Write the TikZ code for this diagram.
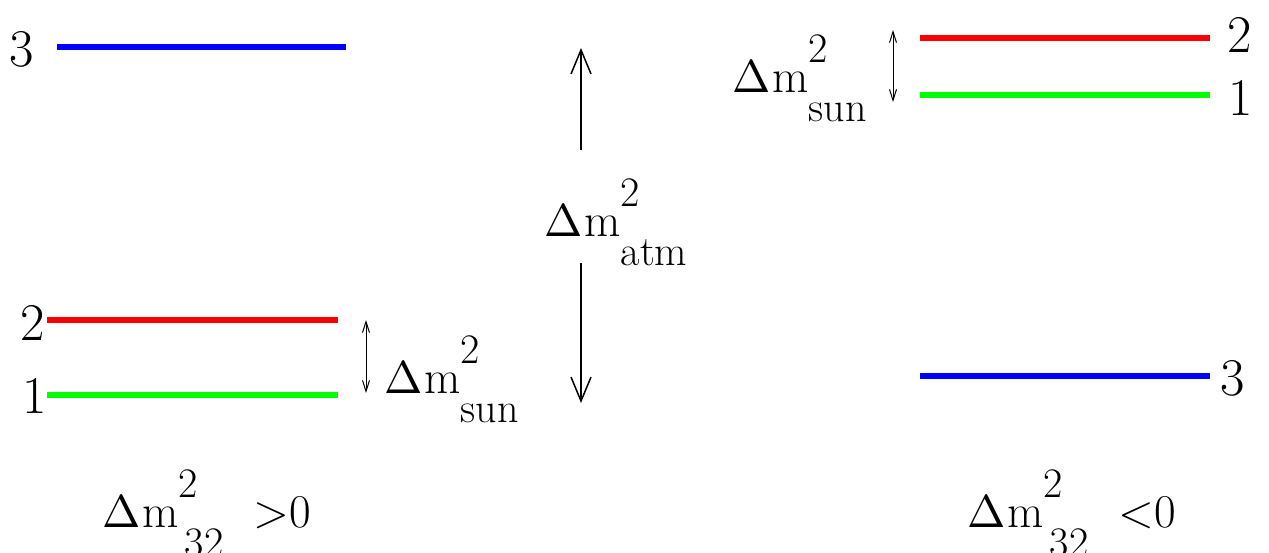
\documentclass[tikz,border=0pt]{standalone}
\usepackage{graphicx}
\usetikzlibrary{arrows.meta}
\definecolor{lvred}{RGB}{255,0,0}
\definecolor{lvgreen}{RGB}{0,255,0}
\definecolor{lvblue}{RGB}{0,0,255}
\newcommand\mainsz{\fontsize{47}{50}\selectfont}
\newcommand\smallsz{\fontsize{42}{46}\selectfont}
\newcommand\lvlsz{\fontsize{53}{56}\selectfont}
\newcommand\bigDelta{\scalebox{4.6}{\fontsize{10}{12}\selectfont$\Delta$}}
\newcommand\dmsq[1]{{\mainsz\bigDelta\kern2pt m}\rlap{\raisebox{30pt}{\smallsz 2}}\raisebox{-29pt}{\smallsz #1}}
\newcommand\dmsqb[1]{{\mainsz\bigDelta\kern2pt m}\rlap{\raisebox{30pt}{\smallsz 2}}\raisebox{-29pt}{\smallsz\hspace{6pt}#1}}
\tikzset{
  level/.style={line width=6pt},
  lvnum/.style={inner sep=0pt, anchor=base, font=\lvlsz},
  dmlabel/.style={inner sep=0pt, anchor=base west},
  bigarrow/.style={line width=1.5pt, -{Straight Barb[length=24pt,width=20pt,line width=1.5pt]}},
  smallarrow/.style={line width=1pt, {Straight Barb[length=11pt,width=7pt]}-{Straight Barb[length=11pt,width=7pt]}}
}
\begin{document}
\begin{tikzpicture}[x=1pt,y=-1pt]
\useasboundingbox (0,0) rectangle (1269,552);
% left (normal) levels
\coordinate (l3a) at (57,47);  \coordinate (l3b) at (346,47);
\coordinate (l2a) at (47,320); \coordinate (l2b) at (338,320);
\coordinate (l1a) at (47,395); \coordinate (l1b) at (338,395);
\draw[level, lvblue] (l3a) -- (l3b);
\draw[level, lvred] (l2a) -- (l2b);
\draw[level, lvgreen] (l1a) -- (l1b);
\node[lvnum] (n3l) at (22,66) {3};
\node[lvnum] (n2l) at (33,340) {2};
\node[lvnum] (n1l) at (35,413) {1};
% left small splitting
\coordinate (sla) at (366,320); \coordinate (slb) at (366,393);
\draw[smallarrow] (sla) -- (slb);
\node[dmlabel] (sunl) at (384,393) {\dmsq{sun}};
% center atm
\coordinate (atop) at (581,48); \coordinate (atopst) at (581,150);
\coordinate (abot) at (581,403); \coordinate (abotst) at (581,263);
\draw[bigarrow] (atopst) -- (atop);
\draw[bigarrow] (abotst) -- (abot);
\node[dmlabel] (atm) at (544,236) {\dmsq{atm}};
% right (inverted) levels
\coordinate (r2a) at (920,38);  \coordinate (r2b) at (1210,38);
\coordinate (r1a) at (920,95);  \coordinate (r1b) at (1210,95);
\coordinate (r3a) at (920,376); \coordinate (r3b) at (1210,376);
\draw[level, lvred] (r2a) -- (r2b);
\draw[level, lvgreen] (r1a) -- (r1b);
\draw[level, lvblue] (r3a) -- (r3b);
\node[lvnum] (n2r) at (1240,52) {2};
\node[lvnum] (n1r) at (1241,115) {1};
\node[lvnum] (n3r) at (1233,395) {3};
\coordinate (sra) at (893,30); \coordinate (srb) at (893,102);
\draw[smallarrow] (sra) -- (srb);
\node[dmlabel] (sunr) at (732,92) {\dmsq{sun}};
% bottom labels
\node[dmlabel] (bl) at (102,527) {\dmsqb{32}\hspace{30pt}{\mainsz >0}};
\node[dmlabel] (br) at (967,527) {\dmsqb{32}\hspace{30pt}{\mainsz <0}};
\end{tikzpicture}
\end{document}
